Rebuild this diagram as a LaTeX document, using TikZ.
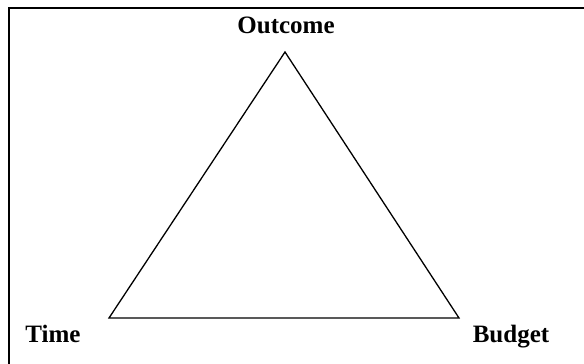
\documentclass[tikz,border=0pt]{standalone}
\usepackage{fontspec}
\setmainfont{Liberation Serif}
\usetikzlibrary{positioning}

\begin{document}
\begin{tikzpicture}[
		x=1pt,y=-1pt,
		every node/.style={
				font=\bfseries\fontsize{25}{28}\selectfont,
				inner sep=0pt,
				anchor=base
			}
	]

	\useasboundingbox (0,0) rectangle (584,364);
	% frame shows only its top and left sides
	\draw[line width=2pt] (9,364) -- (9,8) -- (584,8);

	\coordinate (top) at (285,52);
	\coordinate (left) at (109,318);
	\coordinate (right) at (459,318);

	\node (outcome) at (286,33) {Outcome};
	\node (time) at (53,342) {Time};
	\node (budget) at (511,342) {Budget};

	\draw[line width=1.3pt,line join=miter] (top) -- (left) -- (right) -- cycle;

\end{tikzpicture}
\end{document}
